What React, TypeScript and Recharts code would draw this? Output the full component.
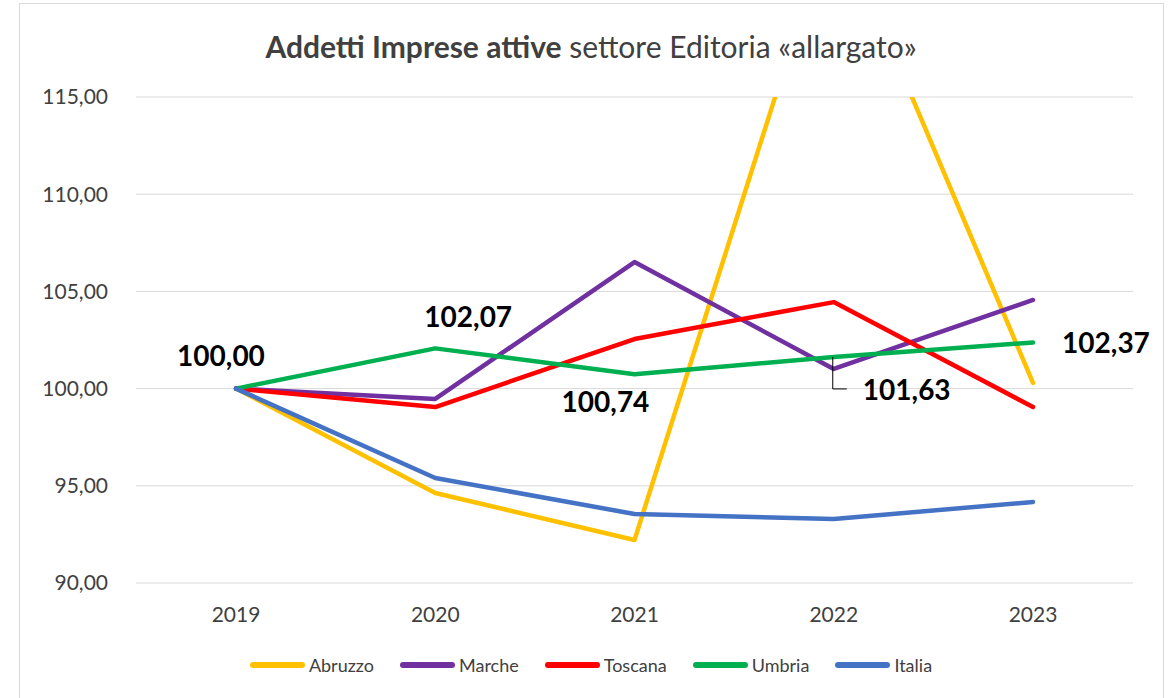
import React from 'react';
import { LineChart, Line, XAxis, YAxis, CartesianGrid, LabelList } from 'recharts';

const years = ['2019', '2020', '2021', '2022', '2023'];
const abruzzo = [100, 94.63, 92.21, 124.5, 100.29];
const marche = [100, 99.47, 106.51, 101.01, 104.56];
const toscana = [100, 99.05, 102.55, 104.45, 99.05];
const umbria = [100, 102.07, 100.74, 101.63, 102.37];
const italia = [100, 95.4, 93.55, 93.29, 94.17];
const yTicks = [90, 95, 100, 105, 110, 115];

const SERIES = [
    { key: 'Abruzzo', values: abruzzo, color: '#FFC000' },
    { key: 'Marche', values: marche, color: '#7030A0' },
    { key: 'Toscana', values: toscana, color: '#FF0000' },
    { key: 'Umbria', values: umbria, color: '#00B050' },
    { key: 'Italia', values: italia, color: '#4472C4' },
];

const rows = years.map((year, i) => {
    const row: Record<string, string | number> = { year };
    SERIES.forEach((s) => { row[s.key] = s.values[i]; });
    return row;
});

// where each Umbria label sits relative to its point (text centre, baseline)
const LABEL_OFFSETS = [
    { dx: -15, dy: -23 },
    { dx: 33, dy: -21 },
    { dx: -29, dy: 38 },
    { dx: 73, dy: 43, leader: true },
    { dx: 73, dy: 10 },
];

const FONT = 'Lato, "Open Sans", sans-serif';
const fmt = (v: number) => v.toFixed(2).replace('.', ',');

const renderUmbriaLabel = (props: any) => {
    const { x, y, index, value } = props;
    const o = LABEL_OFFSETS[index];
    if (!o) return null;
    return (
        <g>
            {o.leader && (
                <path
                    d={`M${x - 1},${y} L${x - 1},${y + 32} L${x + 13},${y + 32}`}
                    stroke="#000"
                    strokeWidth={1}
                    fill="none"
                />
            )}
            <text
                x={x + o.dx}
                y={y + o.dy}
                textAnchor="middle"
                fontFamily={FONT}
                fontWeight={700}
                fontSize={28}
                fill="#000"
            >
                {fmt(Number(value))}
            </text>
        </g>
    );
};

export default function App() {
    return (
        <div style={{ position: 'absolute', left: 0, top: 0, width: 1176, height: 698, background: '#fff', overflow: 'hidden', fontFamily: FONT }}>
            <div style={{ position: 'absolute', left: 19, top: 3, width: 1143, height: 720, border: '1px solid #d9d9d9' }} />
            <div style={{ position: 'absolute', left: 0, width: 1182, top: 31, textAlign: 'center', fontSize: 30, lineHeight: 1, color: '#404040', whiteSpace: 'nowrap' }}>
                <span style={{ fontWeight: 700 }}>Addetti Imprese attive</span> settore Editoria «allargato»
            </div>
            <LineChart
                width={1176}
                height={698}
                data={rows}
                margin={{ top: 97, right: 43, bottom: 85, left: 36 }}
                style={{ position: 'absolute', left: 0, top: 0 }}
            >
                <CartesianGrid vertical={false} stroke="#d9d9d9" strokeWidth={1} />
                <XAxis
                    dataKey="year"
                    axisLine={false}
                    tickLine={false}
                    tickSize={0}
                    tickMargin={24}
                    height={30}
                    padding={{ left: 100, right: 100 }}
                    tick={{ fill: '#404040', fontSize: 21, fontFamily: FONT }}
                />
                <YAxis
                    domain={[90, 115]}
                    ticks={yTicks}
                    allowDataOverflow
                    axisLine={false}
                    tickLine={false}
                    tickSize={0}
                    tickMargin={28}
                    width={100}
                    tickFormatter={fmt}
                    tick={{ fill: '#404040', fontSize: 21, fontFamily: FONT }}
                />
                {SERIES.map((s) => (
                    <Line
                        key={s.key}
                        dataKey={s.key}
                        type="linear"
                        stroke={s.color}
                        strokeWidth={4.5}
                        strokeLinecap="round"
                        strokeLinejoin="round"
                        dot={false}
                        activeDot={false}
                        isAnimationActive={false}
                    >
                        {s.key === 'Umbria' && <LabelList dataKey="Umbria" content={renderUmbriaLabel} />}
                    </Line>
                ))}
            </LineChart>
            <div style={{ position: 'absolute', left: 0, width: 1182, top: 653, height: 24, display: 'flex', justifyContent: 'center', alignItems: 'center', gap: 26 }}>
                {SERIES.map((s) => (
                    <div key={s.key} style={{ display: 'flex', alignItems: 'center' }}>
                        <span style={{ display: 'inline-block', width: 55, height: 6, borderRadius: 3, background: s.color, marginRight: 4 }} />
                        <span style={{ fontSize: 18, color: '#404040' }}>{s.key}</span>
                    </div>
                ))}
            </div>
        </div>
    );
}
